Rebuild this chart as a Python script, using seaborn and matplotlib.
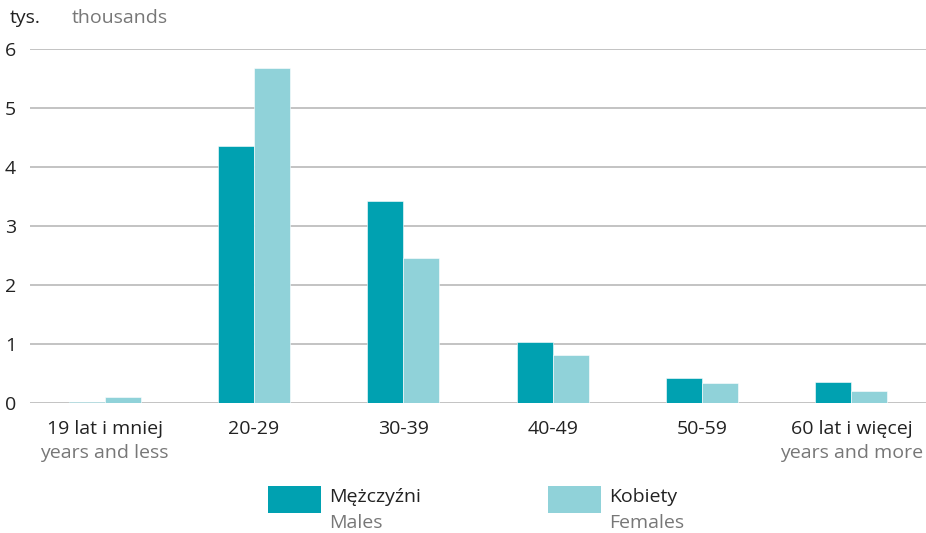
import pandas as pd
import seaborn as sns
import matplotlib.pyplot as plt
from matplotlib.patches import Rectangle
from matplotlib.transforms import blended_transform_factory

## data
groups_pl = ["19 lat i mniej", "20-29", "30-39", "40-49", "50-59", "60 lat i więcej"]
groups_en = ["years and less", "", "", "", "", "years and more"]
males = [0.02, 4.35, 3.42, 1.04, 0.43, 0.35]
females = [0.10, 5.68, 2.45, 0.81, 0.34, 0.21]
series_pl = ["Mężczyźni", "Kobiety"]
series_en = ["Males", "Females"]
colors = ["#00a1b1", "#90d2d9"]

df = pd.DataFrame({
    "grupa": groups_pl * 2,
    "plec": [series_pl[0]] * 6 + [series_pl[1]] * 6,
    "tys": males + females,
})

sns.set_style("white")
plt.rcParams["font.family"] = ["Open Sans", "DejaVu Sans"]
dark = "#222222"
grey = "#777777"
fs = 14

fig = plt.figure(figsize=(9.26, 5.33), dpi=100)
ax = fig.add_axes([0.0324, 0.2439, 0.9676, 0.6641])

sns.barplot(data=df, x="grupa", y="tys", hue="plec", palette=colors,
            saturation=1, width=0.48, gap=0, edgecolor="white", linewidth=0.4,
            legend=False, ax=ax, zorder=3)

ax.set_xlim(-0.5, 5.5)
ax.set_ylim(0, 6)
ax.set_yticks(range(0, 7))
ax.yaxis.grid(True, color="#b3b3b3", linewidth=1.1, zorder=0)
ax.set_axisbelow(True)
sns.despine(ax=ax, left=True, bottom=True, top=True, right=True)
ax.tick_params(axis="both", length=0, labelsize=fs, labelcolor=dark)
ax.tick_params(axis="y", pad=10)
ax.tick_params(axis="x", pad=12)
ax.set_xlabel("")
ax.set_ylabel("")
ax.set_xticks(range(6))
ax.set_xticklabels(groups_pl)

# second (english) line under tick labels
trans = blended_transform_factory(ax.transData, ax.transAxes)
for i, txt in enumerate(groups_en):
    if txt:
        ax.text(i, -0.141, txt, transform=trans, ha="center", va="center",
                fontsize=fs, color=grey)

# unit
fig.text(0.011, 0.966, "tys.", fontsize=fs, color=dark, va="center")
fig.text(0.077, 0.966, "thousands", fontsize=fs, color=grey, va="center")

# legend
for x0, c, pl, en in zip([0.2895, 0.5918], colors, series_pl, series_en):
    fig.add_artist(Rectangle((x0, 0.0375), 0.0572, 0.0507, transform=fig.transFigure,
                             facecolor=c, edgecolor="none"))
    fig.text(x0 + 0.0658, 0.067, pl, fontsize=fs, color=dark, va="center")
    fig.text(x0 + 0.0658, 0.018, en, fontsize=fs, color=grey, va="center")

fig.savefig("out.png", dpi=100)
